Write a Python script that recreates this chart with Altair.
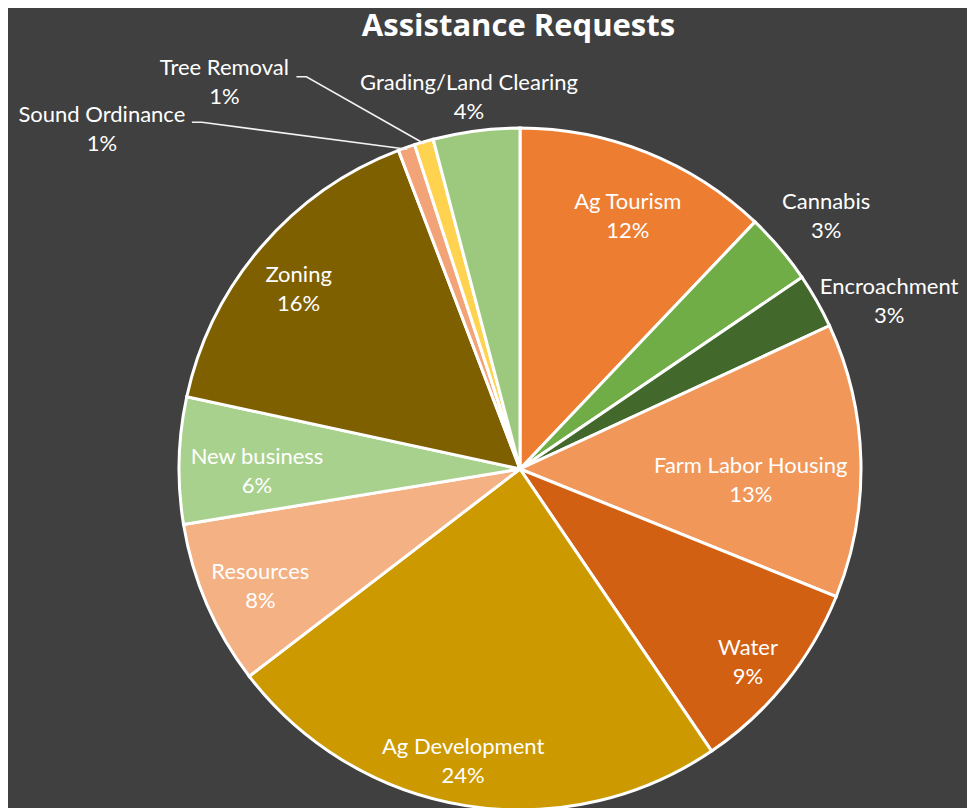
import altair as alt
import numpy as np
import pandas as pd

# ---- data ----
categories = ["Ag Tourism", "Cannabis", "Encroachment", "Farm Labor Housing", "Water",
              "Ag Development", "Resources", "New business", "Zoning",
              "Sound Ordinance", "Tree Removal", "Grading/Land Clearing"]
values = [12.1, 3.4, 2.6, 13.0, 9.4, 24.1, 7.8, 6.0, 15.8, 0.8, 0.9, 4.1]
colors = ["#ED7D31", "#70AD47", "#43682B", "#F1975A", "#D26012", "#CC9A00",
          "#F4B183", "#A9D18E", "#7F6000", "#F2A478", "#FFD34F", "#9DC97F"]

# ---- layout (pixels, page coordinates) ----
PAD_TOP = 3
CX, CY, R = 520, 470, 341
OX, OY = 8, 47 + PAD_TOP  # page position of the view origin
LINE_H = 29
# label radius and angular shift (deg) from the slice middle
label_layout = {
    "Ag Tourism": (276, 1.2), "Cannabis": (398, 0.6), "Encroachment": (406, 4.9),
    "Farm Labor Housing": (231, 3.9), "Water": (298, 1.2), "Ag Development": (296, 1.9),
    "Resources": (284, -0.5), "New business": (263, -1.6), "Zoning": (286, -1.4),
    "Sound Ordinance": (540, -31.3), "Tree Removal": (488, -20.9),
    "Grading/Land Clearing": (377, -0.4),
}
# leader lines: start offset from label centre
leaders = {"Sound Ordinance": (90, -7), "Tree Removal": (72, -6)}

total = sum(values)
cum = np.cumsum([0] + values)
mid_deg = (cum[:-1] + cum[1:]) / 2 / total * 360

rows = []
for i, (c, v) in enumerate(zip(categories, values)):
    r, sh = label_layout[c]
    a = np.radians(mid_deg[i] + sh)
    rows.append({
        "idx": i, "category": c, "value": v,
        "label": f"{c}\n{round(v / total * 100)}%",
        "lx": CX + r * np.sin(a) - OX,
        "ly": CY - r * np.cos(a) - OY + 2,
    })
df = pd.DataFrame(rows)

lrows = []
for c, (dx0, dy0) in leaders.items():
    row = df[df.category == c].iloc[0]
    i = int(row.idx)
    a = np.radians(mid_deg[i])
    x0, y0 = row.lx + dx0, row.ly + dy0
    pts = [(x0, y0), (x0 + 10, y0),
           (CX + (R - 2) * np.sin(a) - OX, CY - (R - 2) * np.cos(a) - OY)]
    for k, (x, y) in enumerate(pts):
        lrows.append({"category": c, "k": k, "x": x, "y": y})
ldf = pd.DataFrame(lrows)

base = alt.Chart(df)

pie = base.mark_arc(outerRadius=R, stroke="white", strokeWidth=3).encode(
    theta=alt.Theta("value:Q", stack=True),
    color=alt.Color("category:N", scale=alt.Scale(domain=categories, range=colors), legend=None),
    order=alt.Order("idx:Q", sort="ascending"),
    x=alt.value(CX - OX),
    y=alt.value(CY - OY),
)

labels = base.mark_text(font="Lato", fontSize=22, color="white", align="center",
                        baseline="middle", lineBreak="\n", lineHeight=LINE_H,
                        dy=-LINE_H / 2).encode(
    x=alt.X("lx:Q", scale=None),
    y=alt.Y("ly:Q", scale=None),
    text="label:N",
)

lines = alt.Chart(ldf).mark_line(color="#F2F2F2", strokeWidth=1.6).encode(
    x=alt.X("x:Q", scale=None),
    y=alt.Y("y:Q", scale=None),
    detail="category:N",
    order="k:Q",
)

chart = alt.layer(pie, lines, labels).properties(
    width=959, height=770,
    padding={"top": PAD_TOP, "left": 0, "right": 0, "bottom": 0},
    title=alt.TitleParams("Assistance Requests", font="Open Sans", fontSize=31,
                          fontWeight="bold", color="white", anchor="middle",
                          dx=31, offset=6),
    background="#404040",
).configure_view(stroke=None)

chart.save("out.html", embed_options={"renderer": "svg", "actions": False})
